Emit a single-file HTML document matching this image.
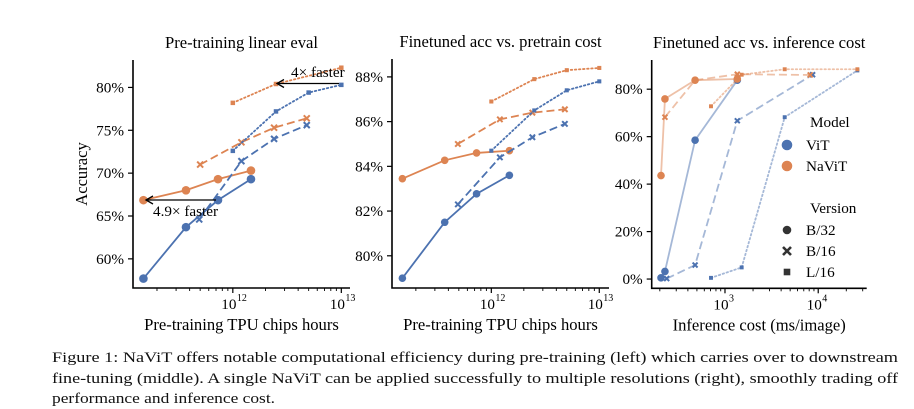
<!DOCTYPE html>
<html><head><meta charset="utf-8">
<style>
html,body{margin:0;padding:0;background:#fff;}
svg{display:block;font-family:"Liberation Serif",serif;}
</style></head>
<body>
<svg id="fig" width="914" height="409" viewBox="0 0 914 409" xmlns="http://www.w3.org/2000/svg">
  <g id="p1"></g>
  <g id="p2"></g>
  <g id="p3"></g>
  <g font-size="14.5" fill="#111">
    <text x="52" y="362" textLength="846" lengthAdjust="spacingAndGlyphs">Figure 1: NaViT offers notable computational efficiency during pre-training (left) which carries over to downstream</text>
    <text x="52" y="383" textLength="846" lengthAdjust="spacingAndGlyphs">fine-tuning (middle). A single NaViT can be applied successfully to multiple resolutions (right), smoothly trading off</text>
    <text x="52" y="403" textLength="223" lengthAdjust="spacingAndGlyphs">performance and inference cost.</text>
  </g>
</svg>
<script>
// ---- Panel 1 data: Pre-training linear eval ----
const p1_vit_b32_x=[1.5e11,3.7e11,7.3e11,1.47e12];
const p1_vit_b32_y=[57.7,63.7,66.85,69.3];
const p1_navit_b32_x=[1.5e11,3.7e11,7.3e11,1.47e12];
const p1_navit_b32_y=[66.85,68.0,69.3,70.3];
const p1_vit_b16_x=[4.9e11,1.2e12,2.4e12,4.8e12];
const p1_vit_b16_y=[64.6,71.4,74.0,75.6];
const p1_navit_b16_x=[5e11,1.2e12,2.4e12,4.8e12];
const p1_navit_b16_y=[71.0,73.6,75.3,76.4];
const p1_vit_l16_x=[1e12,2.5e12,5e12,1e13];
const p1_vit_l16_y=[72.6,77.2,79.4,80.3];
const p1_navit_l16_x=[1e12,2.5e12,1e13];
const p1_navit_l16_y=[78.2,80.4,82.3];
const p1_yticks=[60,65,70,75,80];
// ---- Panel 2 data: Finetuned acc vs pretrain cost ----
const p2_vit_b32_y=[79.0,81.5,82.77,83.6];
const p2_navit_b32_y=[83.45,84.27,84.6,84.7];
const p2_vit_b16_y=[82.3,84.4,85.3,85.9];
const p2_navit_b16_y=[85.0,86.1,86.4,86.55];
const p2_vit_l16_y=[84.7,86.5,87.4,87.8];
const p2_navit_l16_y=[86.9,87.9,88.3,88.4];
const p2_b32_x=[1.5e11,3.7e11,7.3e11,1.47e12];
const p2_b16_x=[4.9e11,1.2e12,2.4e12,4.8e12];
const p2_l16_x=[1e12,2.5e12,5e12,1e13];
const p2_yticks=[80,82,84,86,88];
// ---- Panel 3 data: Finetuned acc vs inference cost ----
const p3_vit_b32_x=[206,227,478,1356];
const p3_vit_b32_y=[0.5,3.2,58.5,83.8];
const p3_navit_b32_x=[206,227,478,1356];
const p3_navit_b32_y=[43.6,75.9,83.8,84.3];
const p3_vit_b16_x=[237,478,1356,8700];
const p3_vit_b16_y=[0.2,5.9,66.7,86.1];
const p3_navit_b16_x=[227,478,1356,8200];
const p3_navit_b16_y=[68.2,83.8,86.3,86.0];
const p3_vit_l16_x=[708,1510,4370,26300];
const p3_vit_l16_y=[0.5,4.9,68.2,87.9];
const p3_navit_l16_x=[708,1510,4370,26300];
const p3_navit_l16_y=[72.8,86.1,88.4,88.4];
const p3_yticks=[0,20,40,60,80];

const NS="http://www.w3.org/2000/svg";
const BLUE="#4c72b0", ORANGE="#dd8452";
const TICKFS=15.2, LABFS=16.6;
function mk(parent,tag,attrs){const e=document.createElementNS(NS,tag);for(const k in attrs)e.setAttribute(k,attrs[k]);parent.appendChild(e);return e;}

function makePanel(g,cfg){
  const xs=v=>cfg.left+(Math.log10(v)-cfg.xmin)/(cfg.xmax-cfg.xmin)*(cfg.right-cfg.left);
  const ys=v=>cfg.bottom-(v-cfg.ymin)/(cfg.ymax-cfg.ymin)*(cfg.bottom-cfg.top);
  const ax=mk(g,'path',{d:`M${cfg.left},${cfg.top} V${cfg.bottom} H${cfg.right}`,fill:'none',stroke:'#000','stroke-width':1.6});
  
  
  const t=mk(g,'text',{x:(cfg.left+cfg.right)/2,y:cfg.top-12,'text-anchor':'middle','font-size':LABFS});
  t.textContent=cfg.title;
  
  
  cfg.yticks.forEach(v=>{
    const y=ys(v);
    mk(g,'line',{x1:cfg.left-5,x2:cfg.left,y1:y,y2:y,stroke:'#000','stroke-width':1.2});
    const l=mk(g,'text',{x:cfg.left-9,y:y+5,'text-anchor':'end','font-size':TICKFS});
    l.textContent=v+'%';
    
    
  });
  for(let d=Math.floor(cfg.xmin);d<=Math.ceil(cfg.xmax);d++){
    for(let m=1;m<10;m++){
      const lv=d+Math.log10(m);
      if(lv<cfg.xmin||lv>cfg.xmax)continue;
      const x=cfg.left+(lv-cfg.xmin)/(cfg.xmax-cfg.xmin)*(cfg.right-cfg.left);
      mk(g,'line',{x1:x,x2:x,y1:cfg.bottom,y2:cfg.bottom+(m==1?5:3),stroke:'#000','stroke-width':m==1?1.2:0.9});
      if(m==1){
        const l=mk(g,'text',{x:x-4,y:cfg.bottom+21,'text-anchor':'middle','font-size':TICKFS});
        l.textContent='10';
        
        
        const s=mk(g,'text',{x:x+4,y:cfg.bottom+13,'text-anchor':'start','font-size':10});
        s.textContent=String(d);
      }
    }
  }
  const xl=mk(g,'text',{x:(cfg.left+cfg.right)/2,y:cfg.bottom+42,'text-anchor':'middle','font-size':LABFS});
  xl.textContent=cfg.xlabel;
  
  
  if(cfg.ylabel){
    const yl=mk(g,'text',{x:0,y:0,'text-anchor':'middle','font-size':LABFS,transform:`translate(${cfg.left-46},${(cfg.top+cfg.bottom)/2}) rotate(-90)`});
    yl.textContent=cfg.ylabel;
    
    
  }
  return {xs,ys};
}

function series(g,sc,xv,yv,color,style,marker,opacity,name,ms){
  const pts=xv.map((v,i)=>[sc.xs(v),sc.ys(yv[i])]);
  const dash=style=='solid'?'':style=='dash'?'8,4':'1.5,2.6';
  const pl=mk(g,'polyline',{points:pts.map(p=>p.join(',')).join(' '),fill:'none',stroke:color,'stroke-width':1.8,'stroke-dasharray':dash,'stroke-opacity':opacity,'stroke-linecap':style=='dot'?'round':'butt'});
  
  
  pts.forEach(p=>{
    let m;
    if(marker=='o'){m=mk(g,'circle',{cx:p[0],cy:p[1],r:ms,fill:color});}
    else if(marker=='s'){m=mk(g,'rect',{x:p[0]-ms*0.7,y:p[1]-ms*0.7,width:ms*1.4,height:ms*1.4,fill:color});}
    else {const s=ms*0.75;m=mk(g,'path',{d:`M${p[0]-s},${p[1]-s}L${p[0]+s},${p[1]+s}M${p[0]-s},${p[1]+s}L${p[0]+s},${p[1]-s}`,stroke:color,'stroke-width':2});}
    
    
  });
}

// Panel 1
const g1=document.getElementById('p1');
const s1=makePanel(g1,{left:133,right:350,top:60,bottom:288,xmin:11.08,xmax:13.08,ymin:56.6,ymax:83.2,yticks:p1_yticks,title:'Pre-training linear eval',xlabel:'Pre-training TPU chips hours',ylabel:'Accuracy'});
series(g1,s1,p1_vit_b32_x,p1_vit_b32_y,BLUE,'solid','o',1,'vit-b32',4.3);
series(g1,s1,p1_navit_b32_x,p1_navit_b32_y,ORANGE,'solid','o',1,'navit-b32',4.3);
series(g1,s1,p1_vit_b16_x,p1_vit_b16_y,BLUE,'dash','x',1,'vit-b16',4);
series(g1,s1,p1_navit_b16_x,p1_navit_b16_y,ORANGE,'dash','x',1,'navit-b16',4);
series(g1,s1,p1_vit_l16_x,p1_vit_l16_y,BLUE,'dot','s',1,'vit-l16',3.2);
series(g1,s1,p1_navit_l16_x,p1_navit_l16_y,ORANGE,'dot','s',1,'navit-l16',3.2);
function arrow(g,x1,x2,y,name){
  const l=mk(g,'line',{x1:x1,x2:x2,y1:y,y2:y,stroke:'#000','stroke-width':1.3});
  
  
  mk(g,'path',{d:`M${x2+7},${y-4} L${x2},${y} L${x2+7},${y+4}`,fill:'none',stroke:'#000','stroke-width':1.3});
}
arrow(g1,216,146,200,'arrow-4-9x');
const a1=mk(g1,'text',{x:153,y:216,'font-size':TICKFS});a1.textContent='4.9\u00d7 faster';


arrow(g1,339,277,83.5,'arrow-4x');
const a2=mk(g1,'text',{x:291,y:77,'font-size':TICKFS});a2.textContent='4\u00d7 faster';



// Panel 2
const g2=document.getElementById('p2');
const s2=makePanel(g2,{left:392,right:609,top:59,bottom:288,xmin:11.08,xmax:13.09,ymin:78.56,ymax:88.8,yticks:p2_yticks,title:'Finetuned acc vs. pretrain cost',xlabel:'Pre-training TPU chips hours'});
series(g2,s2,p2_b32_x,p2_vit_b32_y,BLUE,'solid','o',1,'vit-b32',3.8);
series(g2,s2,p2_b32_x,p2_navit_b32_y,ORANGE,'solid','o',1,'navit-b32',3.8);
series(g2,s2,p2_b16_x,p2_vit_b16_y,BLUE,'dash','x',1,'vit-b16',3.6);
series(g2,s2,p2_b16_x,p2_navit_b16_y,ORANGE,'dash','x',1,'navit-b16',3.6);
series(g2,s2,p2_l16_x,p2_vit_l16_y,BLUE,'dot','s',1,'vit-l16',2.9);
series(g2,s2,p2_l16_x,p2_navit_l16_y,ORANGE,'dot','s',1,'navit-l16',2.9);

// Panel 3
const g3=document.getElementById('p3');
const s3=makePanel(g3,{left:651.7,right:866.7,top:60,bottom:288.3,xmin:2.214,xmax:4.52,ymin:-3.9,ymax:92.3,yticks:p3_yticks,title:'Finetuned acc vs. inference cost',xlabel:'Inference cost (ms/image)'});
series(g3,s3,p3_vit_b32_x,p3_vit_b32_y,BLUE,'solid','o',0.5,'vit-b32',3.8);
series(g3,s3,p3_navit_b32_x,p3_navit_b32_y,ORANGE,'solid','o',0.5,'navit-b32',3.8);
series(g3,s3,p3_vit_b16_x,p3_vit_b16_y,BLUE,'dash','x',0.5,'vit-b16',3.3);
series(g3,s3,p3_navit_b16_x,p3_navit_b16_y,ORANGE,'dash','x',0.5,'navit-b16',3.3);
series(g3,s3,p3_vit_l16_x,p3_vit_l16_y,BLUE,'dot','s',0.5,'vit-l16',2.8);
series(g3,s3,p3_navit_l16_x,p3_navit_l16_y,ORANGE,'dot','s',0.5,'navit-l16',2.8);

// Legend
const lg=mk(g3,'g',{'font-size':TICKFS});


const legendItems=[['Model',null,122],['ViT',['o',BLUE],145],['NaViT',['o',ORANGE],166],['Version',null,208],['B/32',['o','#333'],230],['B/16',['x','#333'],251],['L/16',['s','#333'],272]];
legendItems.forEach(it=>{
  const tx=mk(lg,'text',{x:it[1]?806:810,y:it[2]+5});tx.textContent=it[0];
  
  
  if(it[1]){
    const [m,c]=it[1];const cx=787,cy=it[2];
    if(m=='o')mk(lg,'circle',{cx:cx,cy:cy,r:(c=='#333'?4.3:5.3),fill:c});
    else if(m=='s')mk(lg,'rect',{x:cx-3.3,y:cy-3.3,width:6.6,height:6.6,fill:c});
    else mk(lg,'path',{d:`M${cx-4},${cy-4}L${cx+4},${cy+4}M${cx-4},${cy+4}L${cx+4},${cy-4}`,stroke:c,'stroke-width':2.6});
  }
});
</script>
</body></html>
